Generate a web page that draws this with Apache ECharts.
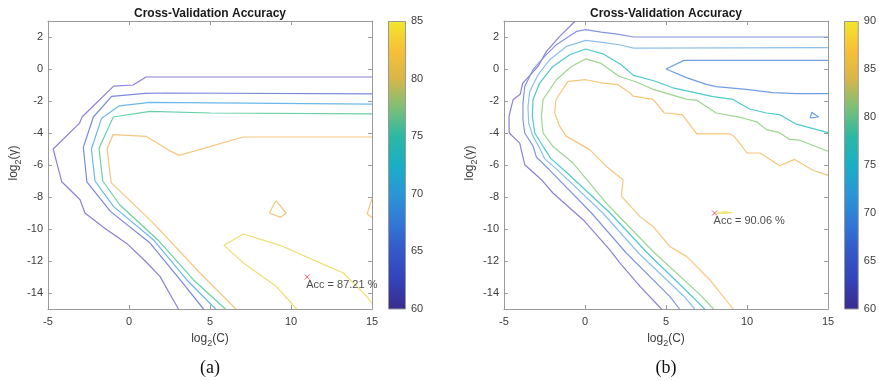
<!DOCTYPE html>
<html>
<head>
<meta charset="utf-8">
<script src="https://cdn.jsdelivr.net/npm/echarts@6/dist/echarts.min.js"></script>
<style>
  html, body { margin: 0; padding: 0; background: #fff; }
  #chart { width: 879px; height: 381px; }
</style>
</head>
<body>
<div id="chart"></div>
<script>
// axis ticks
const xTicks = [-5, 0, 5, 10, 15];
const yTicks = [-14, -12, -10, -8, -6, -4, -2, 0, 2];
const cbarTicksA = [60, 65, 70, 75, 80, 85];
const cbarTicksB = [60, 65, 70, 75, 80, 85, 90];

// panel (a) contour lines, [log2(C), log2(gamma)]
const aLevel1 = [[15,-0.5],[1.05,-0.5],[0.25,-1.0],[-0.95,-1.07],[-2.9,-3.0],[-3.05,-3.38],[-4.68,-5.0],[-4.15,-7.05],[-3.02,-8.17],[-2.72,-9.0],[-1.5,-9.95],[-0.14,-10.9],[1.0,-12.0],[1.91,-12.96],[3.05,-15]];
const aLevel2 = [[15,-1.56],[2.3,-1.5],[1.0,-1.52],[-1.07,-1.71],[-2.2,-3.0],[-2.82,-4.9],[-2.6,-7.05],[-1.15,-8.9],[1.3,-10.88],[3.15,-13.17],[4.6,-15]];
const aLevel3 = [[15,-2.19],[1.3,-2.09],[-0.6,-2.3],[-1.7,-3.1],[-2.32,-5.0],[-2.1,-7.0],[-0.95,-8.6],[1.5,-10.67],[3.56,-13.17],[5.35,-15]];
const aLevel4 = [[15,-2.8],[5.0,-2.75],[1.3,-2.65],[-0.97,-3.0],[-1.85,-4.95],[-1.62,-7.0],[-0.56,-8.5],[1.8,-10.7],[3.97,-13.17],[5.95,-15]];
const aLevel5 = [[15,-4.25],[7.06,-4.25],[3.1,-5.4],[2.6,-5.15],[1.05,-4.21],[-0.98,-4.1],[-1.35,-5.0],[-1.1,-7.1],[1.5,-9.63],[4.38,-12.75],[6.6,-15]];
const aLevel5Isle = [[9.07,-8.23],[9.7,-9.0],[9.36,-9.27],[8.66,-9.0],[9.07,-8.23]];
const aLevel5Edge = [[15,-8.1],[14.7,-9.05],[15,-9.3]];
const aLevel6 = [[15,-14.65],[14.67,-14.21],[13.23,-12.75],[11.79,-12.12],[9.32,-11.02],[7.06,-10.31],[5.86,-11.02],[7.06,-12.12],[9.1,-13.6],[10.35,-15]];
const aBest = [11, -13];
const aBestText = 'Acc = 87.21 %';

// panel (b) contour lines
const bLevel1 = [[-0.6,3],[-1.56,2.04],[-2.38,1.1],[-2.9,0.16],[-3.85,-0.9],[-4.0,-1.58],[-4.44,-1.92],[-4.69,-2.96],[-4.68,-4.0],[-4.03,-4.63],[-3.72,-5.98],[-2.69,-6.92],[-1.98,-7.75],[-0.12,-9.42],[1.52,-11.29],[2.14,-12.1],[3.37,-13.56],[4.72,-15]];
const bLevel2 = [[15,2.0],[3.0,2.0],[2.0,2.18],[1.0,2.3],[0.04,2.46],[-0.53,2.35],[-1.77,1.52],[-2.49,0.79],[-3.21,-0.04],[-3.72,-1.09],[-3.83,-2.13],[-3.83,-3.17],[-3.72,-4.0],[-3.21,-4.8],[-3.0,-5.5],[-2.2,-6.3],[0.4,-9.0],[2.55,-11.5],[5.23,-14.21],[5.84,-15]];
const bLevel3 = [[15,1.33],[3.0,1.3],[2.2,1.5],[1.2,1.65],[0.04,1.79],[-1.15,1.41],[-2.18,0.58],[-2.9,-0.36],[-3.41,-1.4],[-3.52,-2.34],[-3.48,-3.38],[-3.21,-4.21],[-2.8,-4.94],[-2.5,-5.6],[-1.6,-6.4],[1.1,-9.0],[3.3,-11.5],[6.1,-14.2],[6.77,-15]];
const bLevel4 = [[15,-3.98],[13.05,-3.45],[12.0,-2.85],[11.2,-2.75],[10.16,-2.5],[9.14,-1.9],[7.9,-1.73],[5.5,-1.2],[4.3,-0.75],[3.0,-0.4],[2.2,0.3],[1.1,0.95],[0.04,1.25],[-0.94,0.89],[-1.98,0.16],[-2.8,-0.88],[-3.21,-1.92],[-3.25,-2.96],[-3.1,-4.0],[-2.59,-4.84],[-2.1,-5.6],[-1.1,-6.5],[1.55,-9.0],[3.85,-11.5],[6.7,-14.3],[7.39,-15]];
const bLevel5 = [[15,-5.14],[13.25,-4.45],[12.64,-4.4],[12.0,-3.98],[11.2,-3.79],[10.6,-3.3],[9.75,-3.06],[8.1,-2.75],[6.9,-1.95],[6.3,-1.9],[4.2,-1.27],[3.17,-0.81],[2.1,-0.45],[1.0,0.35],[0.04,0.63],[-0.84,0.16],[-1.77,-0.67],[-2.59,-1.92],[-2.69,-2.96],[-2.59,-4.0],[-1.98,-4.84],[-0.74,-5.88],[1.32,-8.38],[1.9,-9.0],[4.3,-11.5],[7.1,-14.1],[7.94,-15]];
const bLevel6 = [[15,-6.65],[14.07,-6.33],[12.94,-5.65],[12.02,-6.05],[10.8,-5.25],[10.0,-5.25],[9.2,-4.2],[8.9,-4.05],[6.9,-4.05],[6.0,-2.85],[4.9,-2.75],[4.2,-1.9],[2.96,-1.69],[2.65,-1.4],[2.04,-0.98],[1.11,-0.88],[0.04,-0.67],[-1.05,-0.77],[-1.8,-1.92],[-1.87,-2.75],[-1.56,-3.59],[-1.15,-4.21],[0.29,-5.04],[1.32,-6.09],[2.35,-6.92],[2.25,-7.96],[3.38,-9.21],[4.2,-9.84],[5.23,-11.09],[6.26,-11.71],[7.7,-13.17],[9.14,-15]];
const bValley = [[15,0.54],[6.11,0.54],[5.0,0.0],[6.26,-0.54],[7.49,-0.96],[8.1,-1.1],[9.96,-1.27],[11.6,-1.48],[13.05,-1.54],[15,-1.54]];
const bValleyIsle = [[13.9,-3.06],[14.0,-2.7],[14.42,-3.0],[13.9,-3.06]];
const bTop = [[8.1,-9.0],[8.6,-8.93],[9.1,-8.97],[8.6,-9.03],[8.1,-9.0]];
const bBest = [8, -9];
const bBestText = 'Acc = 90.06 %';

// parula-like colormap as seen in the colorbars, low -> high
const parulaStops = [0, 0.1, 0.2, 0.3, 0.4, 0.5, 0.6, 0.7, 0.8, 0.9, 1];
const parulaColors = ['#3a2c8c', '#3442b8', '#3358c8', '#3178d6', '#2a96d6', '#1aaec6', '#2cb8a4', '#7cc076', '#d8b648', '#f8c036', '#f2e62c'];

const FONT = '"Liberation Sans", Arial, sans-serif';
const AXIS_GRAY = '#9a9a9a';
const TEXT_GRAY = '#3c3c3c';

const chart = echarts.init(document.getElementById('chart'), null, { renderer: 'canvas' });

const gradient = new echarts.graphic.LinearGradient(0, 0, 0, 1,
  parulaColors.map((c, i) => ({ offset: 1 - parulaStops[i], color: c })).reverse());

function plotAxes(gridIndex) {
  const x = [
    {
      gridIndex, type: 'value', min: -5, max: 15, interval: 5, position: 'bottom',
      axisLine: { onZero: false, lineStyle: { color: AXIS_GRAY, width: 1 } },
      axisTick: { inside: true, length: 4, lineStyle: { color: AXIS_GRAY } },
      axisLabel: { color: TEXT_GRAY, fontSize: 11, fontFamily: FONT, margin: 7 },
      splitLine: { show: false }
    },
    {
      gridIndex, type: 'value', min: -5, max: 15, interval: 5, position: 'top',
      axisLine: { onZero: false, lineStyle: { color: AXIS_GRAY, width: 1 } },
      axisTick: { inside: true, length: 4, lineStyle: { color: AXIS_GRAY } },
      axisLabel: { show: false },
      splitLine: { show: false }
    }
  ];
  const y = [
    {
      gridIndex, type: 'value', min: -15, max: 3, position: 'left',
      axisLine: { onZero: false, lineStyle: { color: AXIS_GRAY, width: 1 } },
      axisTick: { inside: true, length: 4, customValues: yTicks, lineStyle: { color: AXIS_GRAY } },
      axisLabel: { color: TEXT_GRAY, fontSize: 11, fontFamily: FONT, margin: 5, customValues: yTicks },
      splitLine: { show: false }
    },
    {
      gridIndex, type: 'value', min: -15, max: 3, position: 'right',
      axisLine: { onZero: false, lineStyle: { color: AXIS_GRAY, width: 1 } },
      axisTick: { inside: true, length: 4, customValues: yTicks, lineStyle: { color: AXIS_GRAY } },
      axisLabel: { show: false },
      splitLine: { show: false }
    }
  ];
  return { x, y };
}

function cbarAxes(gridIndex, maxV, ticks) {
  return {
    x: {
      gridIndex, type: 'category', data: ['c'], show: false
    },
    y: {
      gridIndex, type: 'value', min: 60, max: maxV, interval: 5, position: 'right',
      axisLine: { show: false },
      axisTick: { inside: true, length: 3, customValues: ticks, lineStyle: { color: '#666' } },
      axisLabel: { color: TEXT_GRAY, fontSize: 11, fontFamily: FONT, margin: 5, customValues: ticks },
      splitLine: { show: false }
    }
  };
}

const pa = plotAxes(0);
const ca = cbarAxes(1, 85, cbarTicksA);
const pb = plotAxes(2);
const cb = cbarAxes(3, 90, cbarTicksB);

// xAxis order: 0 a-bottom, 1 a-top, 2 a-cbar, 3 b-bottom, 4 b-top, 5 b-cbar
const xAxes = [pa.x[0], pa.x[1], ca.x, pb.x[0], pb.x[1], cb.x];
const yAxes = [pa.y[0], pa.y[1], ca.y, pb.y[0], pb.y[1], cb.y];

function contour(data, color, xi, yi) {
  return {
    type: 'line', data, xAxisIndex: xi, yAxisIndex: yi,
    symbol: 'none', showSymbol: false, silent: true, clip: true,
    lineStyle: { color, width: 1.2 }, z: 3
  };
}

function bestPoint(pt, text, xi, yi) {
  return {
    type: 'scatter', xAxisIndex: xi, yAxisIndex: yi, silent: true, z: 5,
    symbol: 'path://M0 0L10 10M10 0L0 10', symbolSize: 5,
    itemStyle: { color: 'rgba(0,0,0,0)', borderColor: '#ec3a4a', borderWidth: 1 },
    label: {
      show: true, position: [2, 5], formatter: text,
      color: '#222', fontSize: 11, fontFamily: FONT
    },
    data: [pt]
  };
}

function cbarSeries(maxV, xi, yi) {
  return {
    type: 'bar', xAxisIndex: xi, yAxisIndex: yi, barWidth: '100%', silent: true,
    data: [maxV],
    itemStyle: { color: gradient, borderColor: AXIS_GRAY, borderWidth: 1 }
  };
}

const aColors = ['#8a82d6', '#7e88dc', '#6cb8ea', '#68d0a6', '#f4c67c', '#ece070'];
const bColors = ['#8a82d6', '#8494e0', '#8cc0ec', '#4ecacc', '#9cd690', '#f6c67c', '#ece46a'];
const bValleyColor = '#6fa0e4';

const series = [
  contour(aLevel1, aColors[0], 0, 0),
  contour(aLevel2, aColors[1], 0, 0),
  contour(aLevel3, aColors[2], 0, 0),
  contour(aLevel4, aColors[3], 0, 0),
  contour(aLevel5, aColors[4], 0, 0),
  contour(aLevel5Isle, aColors[4], 0, 0),
  contour(aLevel5Edge, aColors[4], 0, 0),
  contour(aLevel6, aColors[5], 0, 0),
  bestPoint(aBest, aBestText, 0, 0),
  cbarSeries(85, 2, 2),
  contour(bLevel1, bColors[0], 3, 3),
  contour(bLevel2, bColors[1], 3, 3),
  contour(bLevel3, bColors[2], 3, 3),
  contour(bLevel4, bColors[3], 3, 3),
  contour(bLevel5, bColors[4], 3, 3),
  contour(bLevel6, bColors[5], 3, 3),
  contour(bValley, bValleyColor, 3, 3),
  contour(bValleyIsle, bValleyColor, 3, 3),
  contour(bTop, bColors[6], 3, 3),
  bestPoint(bBest, bBestText, 3, 3),
  cbarSeries(90, 5, 5)
];

function axisName(x, y, varName, rotate) {
  return {
    type: 'text', x, y, rotation: rotate ? Math.PI / 2 : 0, silent: true,
    style: {
      text: '{n|log}{s|2}{n|(' + varName + ')}',
      align: 'center', verticalAlign: 'middle',
      rich: {
        n: { fontSize: 12, fontFamily: FONT, fill: TEXT_GRAY, lineHeight: 18, verticalAlign: 'middle' },
        s: { fontSize: 9, fontFamily: FONT, fill: TEXT_GRAY, lineHeight: 18, verticalAlign: 'bottom' }
      }
    }
  };
}

function textAt(x, y, text, font, fill) {
  return {
    type: 'text', x, y, silent: true,
    style: { text, font, fill, align: 'center', verticalAlign: 'middle' }
  };
}

const option = {
  animation: false,
  backgroundColor: '#ffffff',
  grid: [
    { left: 48, top: 21, width: 324, height: 288 },
    { left: 388, top: 21, width: 18, height: 288 },
    { left: 504, top: 21, width: 324, height: 288 },
    { left: 844, top: 21, width: 18, height: 288 }
  ],
  xAxis: xAxes,
  yAxis: yAxes,
  series,
  graphic: [
    textAt(210, 14, 'Cross-Validation Accuracy', 'bold 12px ' + FONT, '#1a1a1a'),
    textAt(666, 14, 'Cross-Validation Accuracy', 'bold 12px ' + FONT, '#1a1a1a'),
    axisName(210, 339, 'C', false),
    axisName(666, 339, 'C', false),
    axisName(14, 163, 'γ', true),
    axisName(470, 163, 'γ', true),
    textAt(210, 368, '(a)', '18px "Liberation Serif", "Times New Roman", serif', '#111'),
    textAt(666, 368, '(b)', '18px "Liberation Serif", "Times New Roman", serif', '#111')
  ]
};

chart.setOption(option);
</script>
</body>
</html>
